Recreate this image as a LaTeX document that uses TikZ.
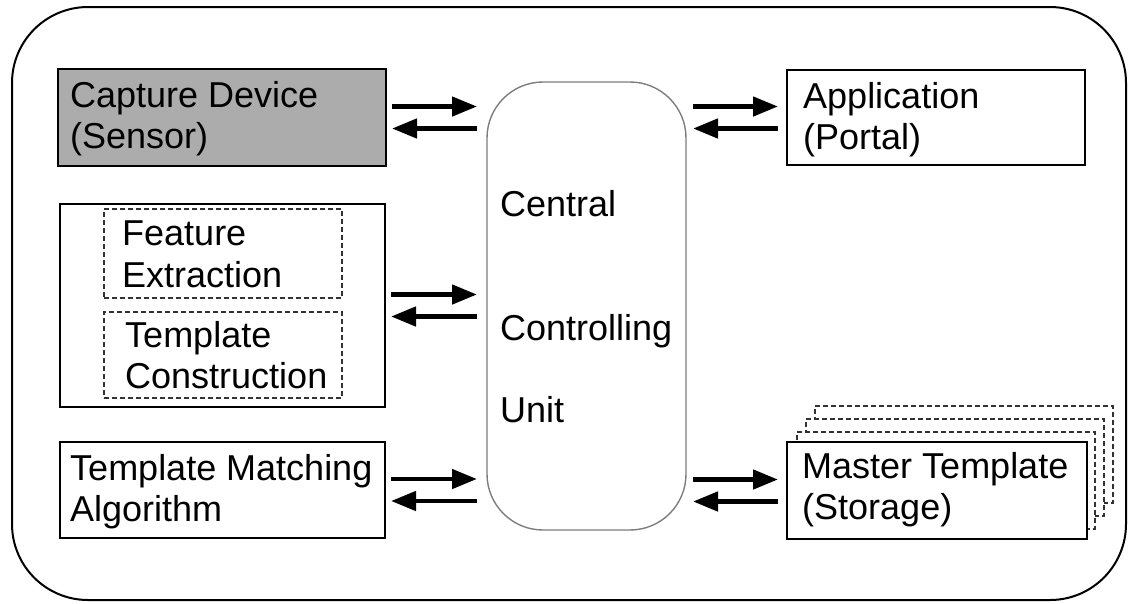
\documentclass[tikz,border=0pt]{standalone}
\usepackage{fontspec}
\setmainfont{Liberation Sans}
\usetikzlibrary{arrows.meta,calc}
\definecolor{capfill}{RGB}{172,172,172}
\definecolor{cuborder}{RGB}{125,125,125}
\definecolor{dashcol}{RGB}{50,50,50}
\tikzset{
  box/.style={draw=black, line width=1.4pt, anchor=north west, inner sep=0pt, outer sep=0pt},
  dbox/.style={draw=dashcol, line width=1.2pt, dash pattern=on 5pt off 3pt, anchor=north west, inner sep=0pt, outer sep=0pt},
  stackbox/.style={dbox, fill=white},
  lbl/.style={anchor=base west, inner sep=0pt, font=\fontsize{36}{41}\selectfont},
  arr/.style={line width=4.6pt, -{Triangle[length=25pt,width=19pt]}},
}
\begin{document}
\begin{tikzpicture}[x=1pt,y=-1pt]
\useasboundingbox (0,0) rectangle (1129,603);
% outer frame
\draw[line width=2pt, rounded corners=76pt] (12,7) rectangle (1126,600);

% central unit
\node[draw=cuborder, line width=1.4pt, rounded corners=56pt, anchor=north west, inner sep=0pt, outer sep=0pt,
      minimum width=199pt, minimum height=448pt] (cu) at (487,82) {};
\node[lbl] (t1) at (500,216) {Central};
\node[lbl] (t2) at (500,340) {Controlling};
\node[lbl] (t3) at (500,422) {Unit};

% capture device
\node[box, fill=capfill, minimum width=328pt, minimum height=97pt] (cap) at (58,69) {};
\node[lbl] (cap1) at (70,107) {Capture Device};
\node[lbl] (cap2) at (70,148) {(Sensor)};

% feature / template construction
\node[box, minimum width=325pt, minimum height=203pt] (mid) at (60,204) {};
\node[dbox, minimum width=238pt, minimum height=89pt] (fe) at (104,209) {};
\node[dbox, minimum width=238pt, minimum height=86pt] (tc) at (104,312) {};
\node[lbl] (fe1) at (122,245) {Feature};
\node[lbl] (fe2) at (122,287) {Extraction};
\node[lbl] (tc1) at (125,347) {Template};
\node[lbl] (tc2) at (125,388) {Construction};

% matching algorithm
\node[box, minimum width=325pt, minimum height=96pt] (alg) at (60,442) {};
\node[lbl] (alg1) at (70,480) {Template Matching};
\node[lbl] (alg2) at (70,521) {Algorithm};

% application
\node[box, minimum width=298pt, minimum height=95pt] (app) at (787,70) {};
\node[lbl] (app1) at (803,108) {Application};
\node[lbl] (app2) at (803,149) {(Portal)};

% master template with stacked copies
\node[stackbox, minimum width=298pt, minimum height=97pt] (mt3) at (815,406) {};
\node[stackbox, minimum width=298pt, minimum height=97pt] (mt2) at (806,419) {};
\node[stackbox, minimum width=298pt, minimum height=97pt] (mt1) at (797,432) {};
\node[box, fill=white, minimum width=300pt, minimum height=97pt] (mt) at (787,442) {};
\node[lbl] (mt1t) at (802,478) {Master Template};
\node[lbl] (mt2t) at (802,519) {(Storage)};

% arrows left side
\foreach \b in {cap,mid,alg}{
  \draw[arr] ($(\b.east)+(6,-11)$) -- ($(\b.east -| cu.west)+(-10,-11)$);
  \draw[arr] ($(\b.east -| cu.west)+(-10,11)$) -- ($(\b.east)+(6,11)$);
}
% arrows right side
\foreach \b in {app,mt}{
  \draw[arr] ($(\b.west -| cu.east)+(7,-11)$) -- ($(\b.west)+(-9,-11)$);
  \draw[arr] ($(\b.west)+(-9,11)$) -- ($(\b.west -| cu.east)+(7,11)$);
}
\end{tikzpicture}
\end{document}
